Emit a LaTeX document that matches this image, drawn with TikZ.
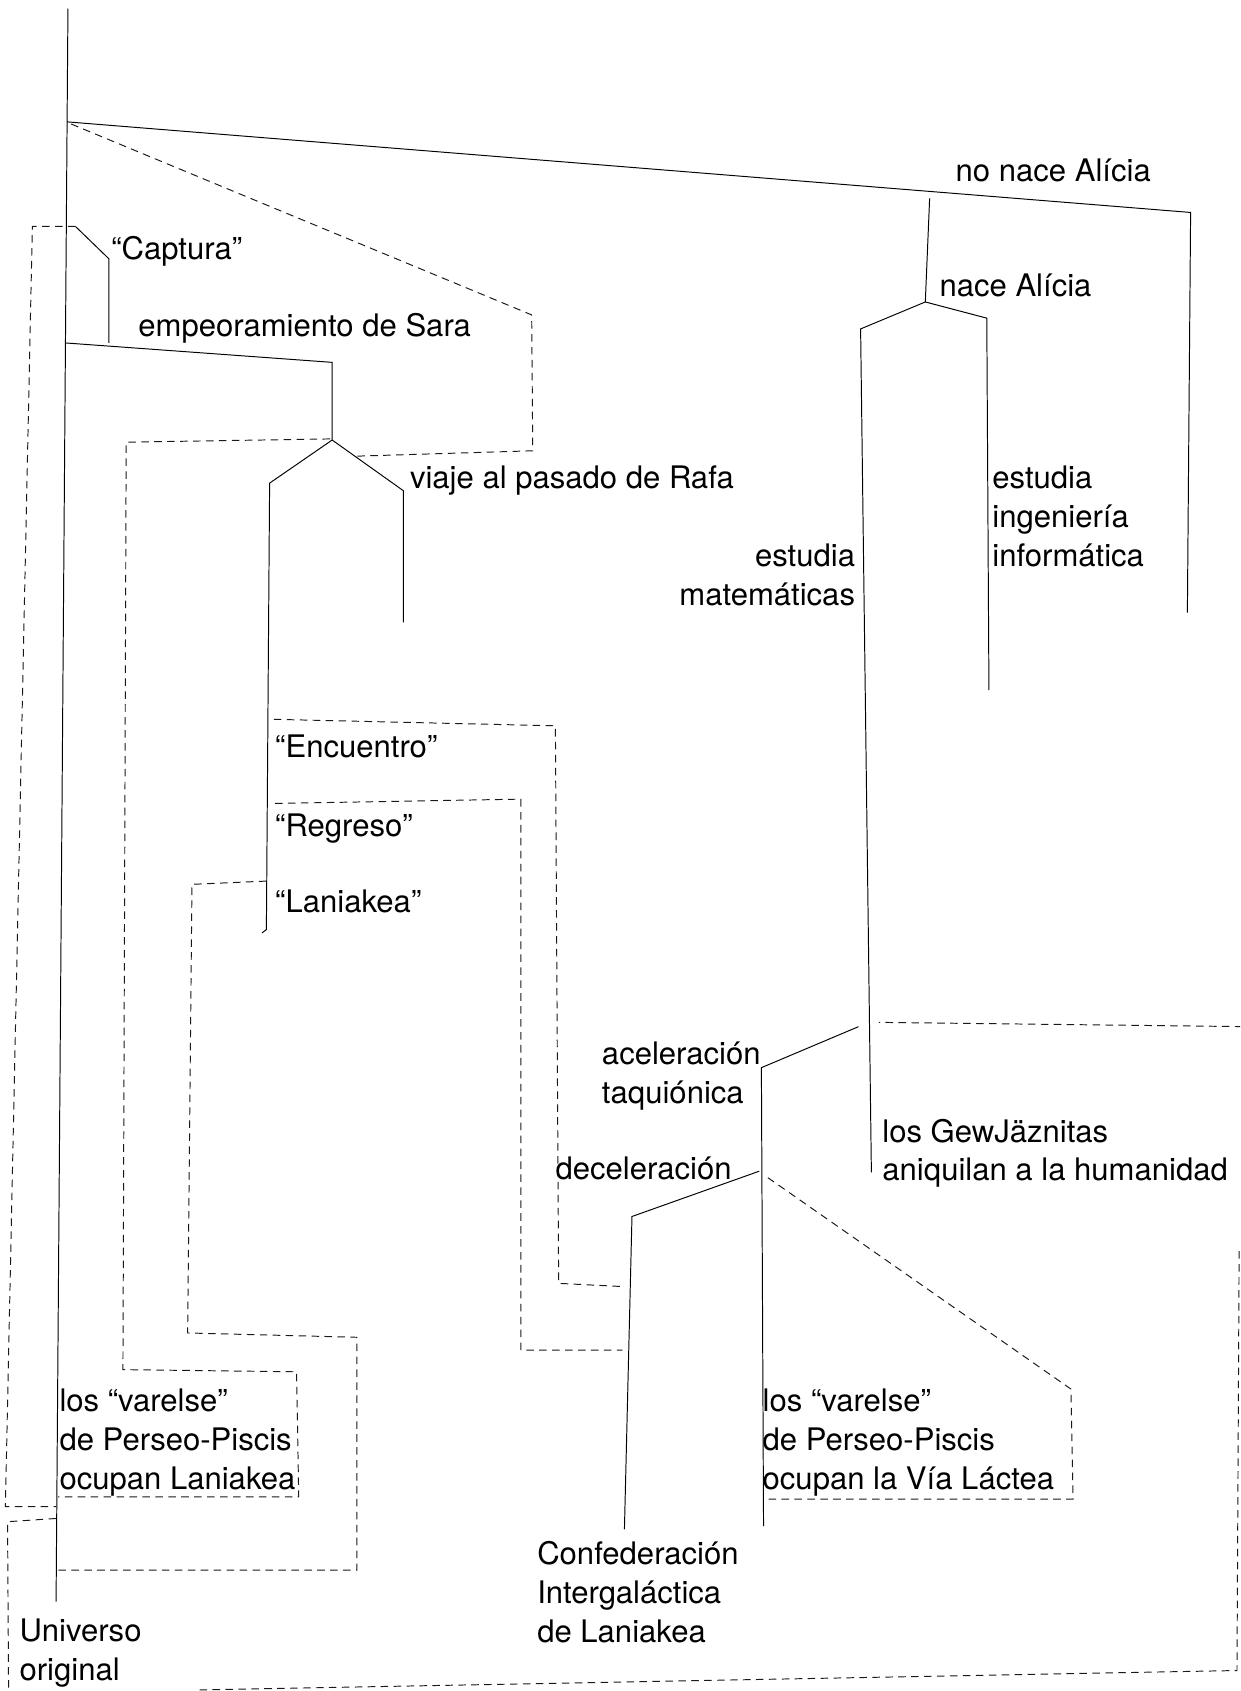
\documentclass[tikz,border=0pt]{standalone}
\usepackage{fontspec}
\setmainfont{TeX Gyre Heros}
\begin{document}
\begin{tikzpicture}[x=1pt,y=-1pt,
  ln/.style={draw=black,line width=0.9pt},
  dsh/.style={draw=black!90,line width=0.9pt,dash pattern=on 7pt off 5pt},
  lbl/.style={inner sep=0pt,font=\fontsize{28.8}{36}\selectfont,align=left,anchor=west},
  lblr/.style={inner sep=0pt,font=\fontsize{28.8}{36}\selectfont,align=right,anchor=east}]
\useasboundingbox (0,0) rectangle (1150,1568);
\clip (0,0) rectangle (1150,1568);
% ---------- solid coordinates
\coordinate (mT) at (63,8);
\coordinate (mB) at (52,1485);
\coordinate (tbS) at (62.2,113);
\coordinate (tbC) at (1104,197);
\coordinate (tbE) at (1101,568);
\coordinate (naT) at (862,184);
\coordinate (naF) at (858,280);
\coordinate (maC) at (798,305);
\coordinate (maE) at (808,1087);
\coordinate (inC) at (915,295);
\coordinate (inE) at (917,640);
\coordinate (acS) at (796,952);
\coordinate (acC) at (706,990);
\coordinate (acE) at (708,1415);
\coordinate (dcS) at (704,1086);
\coordinate (dcC) at (586,1128);
\coordinate (dcE) at (579,1418);
\coordinate (cpS) at (70,210);
\coordinate (cpC) at (101,240);
\coordinate (cpE) at (101,318);
\coordinate (saS) at (60.7,318);
\coordinate (saC) at (308,336);
\coordinate (saF) at (308,408);
\coordinate (rlC) at (250,448);
\coordinate (rlE) at (247,862);
\coordinate (rlH) at (243,865);
\coordinate (rrC) at (374,455);
\coordinate (rrE) at (374,577);
% ---------- dashed coordinates
\coordinate (d1s) at (66,115);
\coordinate (d1a) at (493,292);
\coordinate (d1b) at (494,418);
\coordinate (d1c) at (330,423);
\coordinate (d2s) at (306,407);
\coordinate (d2a) at (117,410);
\coordinate (d2b) at (114,1270);
\coordinate (d2c) at (275,1272);
\coordinate (d2d) at (277,1388);
\coordinate (d2e) at (54,1388);
\coordinate (d3s) at (247,817);
\coordinate (d3a) at (178,820);
\coordinate (d3b) at (174,1236);
\coordinate (d3c) at (331,1240);
\coordinate (d3d) at (331,1456);
\coordinate (d3e) at (54,1456);
\coordinate (d4s) at (254,667);
\coordinate (d4a) at (515,673);
\coordinate (d4b) at (518,1190);
\coordinate (d4c) at (578,1193);
\coordinate (d5s) at (255,745);
\coordinate (d5a) at (483,741);
\coordinate (d5b) at (483,1252);
\coordinate (d5c) at (577,1252);
\coordinate (d6a) at (30,210);
\coordinate (d6b) at (5,1397);
\coordinate (d6c) at (52,1397);
\coordinate (d7s) at (52,1408);
\coordinate (d7a) at (7,1411);
\coordinate (d7b) at (8,1575);
\coordinate (d7c) at (185,1567);
\coordinate (d7d) at (1147,1549);
\coordinate (d7e) at (1149,1160);
\coordinate (d7f) at (1160,1150);
\coordinate (d7g) at (1160,952);
\coordinate (d7h) at (815,948);
\coordinate (d8s) at (712,1092);
\coordinate (d8a) at (993,1288);
\coordinate (d8b) at (995,1390);
\coordinate (d8c) at (708,1390);
% ---------- solid lines
\draw[ln] (mT) -- (mB);
\draw[ln] (tbS) -- (tbC) -- (tbE);
\draw[ln] (naT) -- (naF);
\draw[ln] (naF) -- (maC) -- (maE);
\draw[ln] (naF) -- (inC) -- (inE);
\draw[ln] (acS) -- (acC) -- (acE);
\draw[ln] (dcS) -- (dcC) -- (dcE);
\draw[ln] (cpS) -- (cpC) -- (cpE);
\draw[ln] (saS) -- (saC) -- (saF);
\draw[ln] (saF) -- (rlC) -- (rlE) -- (rlH);
\draw[ln] (saF) -- (rrC) -- (rrE);
% ---------- dashed lines
\draw[dsh] (d1s) -- (d1a) -- (d1b) -- (d1c);
\draw[dsh] (d2s) -- (d2a) -- (d2b) -- (d2c) -- (d2d) -- (d2e);
\draw[dsh] (d3s) -- (d3a) -- (d3b) -- (d3c) -- (d3d) -- (d3e);
\draw[dsh] (d4s) -- (d4a) -- (d4b) -- (d4c);
\draw[dsh] (d5s) -- (d5a) -- (d5b) -- (d5c);
\draw[dsh] (cpS) -- (d6a) -- (d6b) -- (d6c);
\draw[dsh] (d7s) -- (d7a) -- (d7b);
\draw[dsh] (d7c) -- (d7d) -- (d7e) -- (d7f) -- (d7g) -- (d7h);
\draw[dsh] (d8s) -- (d8a) -- (d8b) -- (d8c);
% ---------- labels
\node[lbl] (noAlicia) at (886,160.8) {\strut no nace Alícia\strut};
\node[lbl] (siAlicia) at (871,267.8) {\strut nace Alícia\strut};
\node[lbl] (captura) at (103,233.8) {\strut “Captura”\strut};
\node[lbl] (sara) at (128,304.8) {\strut empeoramiento de Sara\strut};
\node[lbl] (rafa) at (380,445.8) {\strut viaje al pasado de Rafa\strut};
\node[lblr] (mates) at (793,536) {\strut estudia\\matemáticas\strut};
\node[lbl] (inge) at (920,481.8) {\strut estudia\\ingeniería\\informática\strut};
\node[lbl] (encuentro) at (255,694.8) {\strut “Encuentro”\strut};
\node[lbl] (regreso) at (255,768.8) {\strut “Regreso”\strut};
\node[lbl] (laniakea) at (255,838.8) {\strut “Laniakea”\strut};
\node[lbl] (acel) at (558,997.8) {\strut aceleración\\taquiónica\strut};
\node[lbl] (decel) at (515,1086.8) {\strut deceleración\strut};
\node[lbl] (gew) at (818,1069.8) {\strut los GewJäznitas\\aniquilan a la humanidad\strut};
\node[lbl] (varL) at (55,1337.8) {\strut los “varelse”\\de Perseo-Piscis\\ocupan Laniakea\strut};
\node[lbl] (varR) at (707,1337.8) {\strut los “varelse”\\de Perseo-Piscis\\ocupan la Vía Láctea\strut};
\node[lbl] (confed) at (498,1479.8) {\strut Confederación\\Intergaláctica\\de Laniakea\strut};
\node[lbl] (univ) at (18,1532.8) {\strut Universo\\original\strut};
\end{tikzpicture}
\end{document}
